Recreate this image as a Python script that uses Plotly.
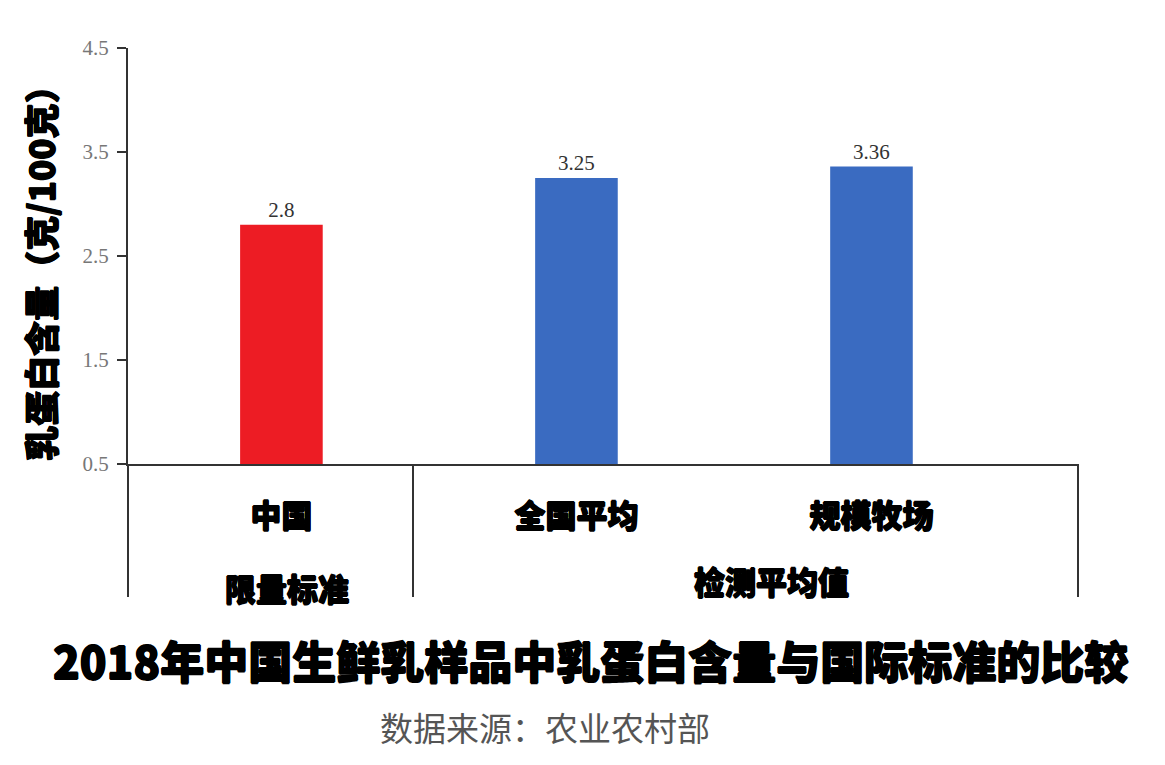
import plotly.graph_objects as go

# 乳蛋白含量 (克/100克)
categories = ["中国", "全国平均", "规模牧场"]
protein = [2.8, 3.25, 3.36]
bar_colors = ["#ED1C24", "#3A6BC1", "#3A6BC1"]
groups = ["限量标准", "检测平均值"]
y_ticks = [0.5, 1.5, 2.5, 3.5, 4.5]
BASELINE = 0.5

HEAVY = "Noto Sans CJK SC"
SERIF = "Liberation Serif"
# thicken the bold CJK glyphs a little, the original uses a black weight
THICK = "0.7px 0 0 black, -0.7px 0 0 black, 0 0.7px 0 black, 0 -0.7px 0 black"

fig = go.Figure()
# bars start at the 0.5 baseline, so heights are value - 0.5
fig.add_trace(go.Bar(
    x=categories,
    y=[v - BASELINE for v in protein],
    base=BASELINE,
    width=0.28,
    marker=dict(color=bar_colors, line=dict(width=0)),
    text=[str(v) for v in protein],
    textposition="outside",
    textfont=dict(family=SERIF, size=21, color="#333333"),
    cliponaxis=False,
))

fig.update_layout(
    width=1165, height=765,
    margin=dict(l=120, r=95, t=40, b=309),
    plot_bgcolor="white", paper_bgcolor="white",
    showlegend=False,
)
fig.update_yaxes(
    range=[0.5, 4.5],
    tickvals=y_ticks,
    ticktext=[str(t) for t in y_ticks],
    ticks="outside", ticklen=9, tickwidth=2, tickcolor="#333333",
    tickfont=dict(family=SERIF, size=21, color="#777777"),
    showgrid=False, zeroline=False,
    showline=True, linecolor="#333333", linewidth=2,
    ticklabelstandoff=4,
)
fig.update_xaxes(
    range=[-0.52, 2.70],
    showgrid=False, zeroline=False,
    showline=True, linecolor="#333333", linewidth=2,
    ticks="",
    tickfont=dict(family=HEAVY, size=31, color="black", weight=900,
                  shadow=THICK),
    ticklabelstandoff=24,
)

# group divider lines below the axis
line_style = dict(color="#333333", width=2)
for xp in [0.0, 0.3, 1.0]:
    fig.add_shape(type="line", xref="paper", yref="paper",
                  x0=xp, x1=xp, y0=-0.32, y1=0, line=line_style)

heavy_font = dict(family=HEAVY, size=31, color="black", weight=900,
                  shadow=THICK)

# group labels
fig.add_annotation(text=groups[0], xref="paper", yref="paper",
                   x=0.167, y=-0.297, showarrow=False,
                   xanchor="center", yanchor="middle", font=heavy_font)
fig.add_annotation(text=groups[1], xref="paper", yref="paper",
                   x=0.677, y=-0.279, showarrow=False,
                   xanchor="center", yanchor="middle", font=heavy_font)

# y axis title
fig.add_annotation(text="乳蛋白含量（克/100克）", xref="paper", yref="paper",
                   x=-0.093, y=0.478, textangle=-90, showarrow=False,
                   xanchor="center", yanchor="middle",
                   font=dict(family=HEAVY, size=35, color="black", weight=900,
                             shadow=THICK))

# chart title and source
fig.add_annotation(text="2018年中国生鲜乳样品中乳蛋白含量与国际标准的比较",
                   xref="paper", yref="paper", x=0.487, y=-0.471,
                   showarrow=False, xanchor="center", yanchor="middle",
                   font=dict(family=HEAVY, size=44, color="black", weight=900,
                             shadow=THICK))
fig.add_annotation(text="数据来源：农业农村部", xref="paper", yref="paper",
                   x=0.439, y=-0.632, showarrow=False,
                   xanchor="center", yanchor="middle",
                   font=dict(family="Noto Sans CJK SC", size=33, color="#555555"))

fig.write_html("out.html")
